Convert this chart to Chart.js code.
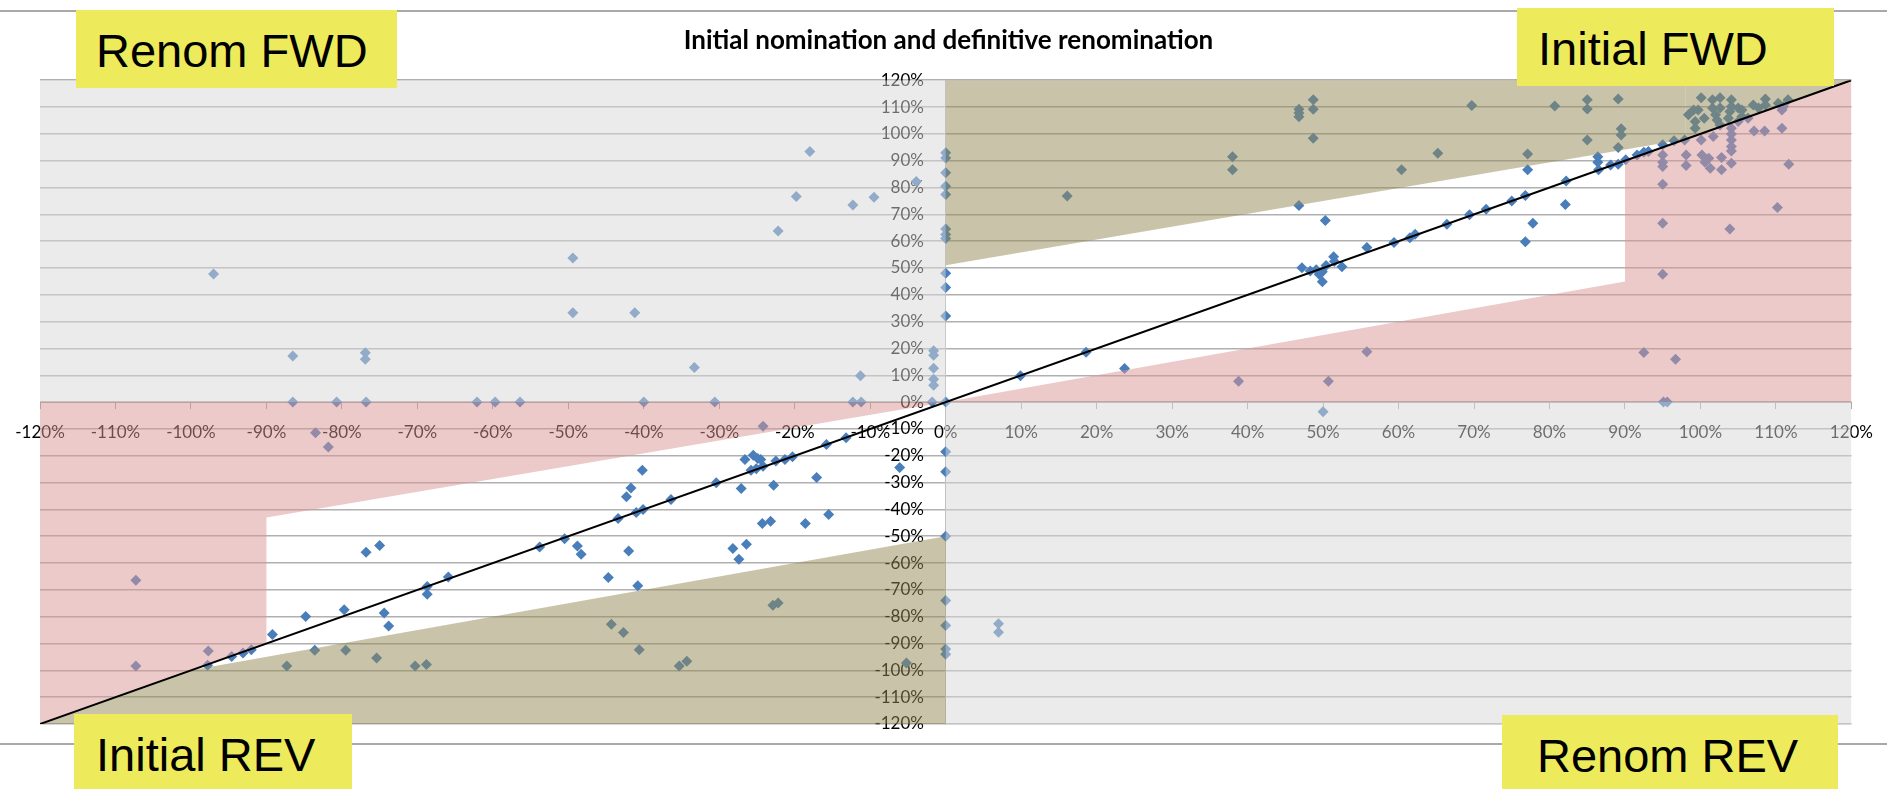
<!DOCTYPE html>
<html>
<head>
<meta charset="utf-8">
<script src="https://cdn.jsdelivr.net/npm/chart.js@4.4.1/dist/chart.umd.min.js"></script>
<style>
    body { margin: 0; background: #fff; }
    #wrap { position: relative; width: 1887px; height: 789px; overflow: hidden; }
    #nominations { position: absolute; left: 0; top: 0; }
    .rule { position: absolute; left: 0; width: 1887px; height: 2px; background: #a9a9a9; }
    .tag { position: absolute; background: #edeb5b; }
    .tag span {
        position: absolute; font-family: "Liberation Sans", Arial, sans-serif;
        font-size: 47px; line-height: 47px; color: #000; white-space: nowrap;
    }
</style>
</head>
<body>
<div id="wrap">
    <div class="rule" style="top:10px"></div>
    <div class="rule" style="top:743px"></div>
    <canvas id="nominations" width="1887" height="789"></canvas>
    <div class="tag" style="left:76px;top:10px;width:321px;height:78px"><span style="left:20px;top:17px">Renom FWD</span></div>
    <div class="tag" style="left:1517px;top:8px;width:317px;height:78px"><span style="left:21px;top:17px">Initial FWD</span></div>
    <div class="tag" style="left:74px;top:714px;width:278px;height:75px"><span style="left:22px;top:17px">Initial REV</span></div>
    <div class="tag" style="left:1502px;top:715px;width:336px;height:74px"><span style="left:35px;top:17px">Renom REV</span></div>
</div>
<script>
    // forward side (initial nomination >= 0)
    const fwdInitial = [
        0, 0, 0, 0, 0, 0, 0, 0, 0, 0, 0, 0, 0, 0, 0, 0, 0, 0, 0,
        9.9, 18.6, 23.7, 16.1, 7, 7, 38, 38, 38.8,
        46.8, 46.8, 46.8, 48.7, 48.7, 48.7, 46.8, 50.3,
        47.2, 48.3, 49.1, 49.9, 49.9, 50.4, 51.4, 51.5, 52.5, 49.5, 50.7, 50,
        55.8, 55.8, 59.4, 60.4, 61.5, 62.2, 65.2, 66.4, 69.4, 69.7, 71.6,
        75, 76.8, 77.1, 77.1, 77.8, 76.8, 80.7, 82.2, 82.1,
        85, 85, 85, 86.4, 86.4, 86.5, 88.1, 89.1, 89.1, 89.1, 89.5, 89.5,
        90.1, 91.6, 92.5, 93.1, 95, 96.5, 97.9,
        100.1, 98.4, 99.1, 99.7, 99.3, 99.3, 100.5, 101.6, 102.6, 101.6, 102.6, 102, 102.2, 102.6,
        104.1, 104.1, 103.9, 105, 105.5, 103.7, 105.5, 107, 108.6, 108.6, 107.7, 110.3, 111.6, 111,
        95, 95, 95, 95, 95, 95, 98.1, 98.1, 100.1, 100.2, 101.1, 101.3, 100.6, 101.7, 102.8, 102.8,
        104.1, 104.1, 104.1, 104.1, 104.1, 104.1, 105, 106.3, 107.1, 108.5, 110.8, 110.8, 111.7, 110.2, 103.9,
        92.5, 96.7, 95.1, 95.6
    ];
    const fwdRenom = [
        93, 91, 85.5, 80.5, 77.4, 64.5, 62.5, 61, 48, 42.7, 32.1, 0, -18.5, -26, -50, -74, -83.3, -92, -94,
        9.8, 18.6, 12.5, 76.8, -82.6, -85.8, 91.5, 86.6, 7.8,
        109.2, 107.8, 106.4, 112.7, 109.2, 98.4, 73.3, 67.7,
        50.1, 48.9, 49.3, 48.6, 44.9, 50.9, 54.2, 52.4, 50.5, 47.6, 7.8, -3.6,
        57.6, 18.8, 59.5, 86.6, 61.3, 62.6, 92.8, 66.3, 69.8, 110.6, 71.9,
        75, 77, 86.6, 92.5, 66.7, 59.8, 110.4, 82.4, 73.7,
        112.7, 109.3, 97.7, 91.5, 89.4, 86.6, 88.4, 88.7, 94.9, 113, 101.9, 99.6,
        90.3, 92.1, 93.1, 93.4, 95.9, 97.4, 97.7,
        113.5, 107.1, 108.9, 108.9, 104.6, 102.1, 105.8, 112.7, 113.5, 109.6, 109.6, 107.1, 105.2, 103.3,
        112.7, 110.2, 108.3, 109.6, 108.9, 105.8, 106.5, 110.8, 113, 110.8, 109.6, 111.4, 112.7, 110.2,
        92.1, 89.4, 87.8, 81.2, 66.7, 47.7, 92.1, 88.2, 97.7, 92.1, 90.9, 87.2, 89.4, 99, 91.2, 86.6,
        102.1, 99.9, 97.7, 95.3, 93.6, 89, 104.6, 105.8, 101.1, 101.1, 102.1, 108.9, 88.7, 72.5, 64.5,
        18.5, 16, 0, 0
    ];

    // reverse side (initial nomination < 0)
    const revInitial = [
        -97, -86.5, -76.9, -76.9, -49.4, -49.4, -41.2, -33.3, -18, -19.8, -22.2, -12.3, -9.5, -3.9, -11.3,
        -1.6, -1.6, -1.6, -1.6, -1.6, -1.8,
        -86.5, -80.7, -76.8, -62.1, -59.7, -56.4, -40, -30.6, -12.3, -11.2,
        -83.5, -81.8, -24.2, -107.3, -107.3, -97.7, -97.8, -94.6, -93.1, -92, -89.2, -84.8, -79.7,
        -76.8, -75, -74.4, -73.8, -68.7, -68.7, -65.9,
        -87.3, -83.6, -79.5, -75.4, -70.3, -68.8,
        -53.8, -50.5, -48.8, -48.3, -44.7, -43.4, -42.3, -41.7, -42, -40.8, -41, -40.1, -40.2, -36.4,
        -30.4, -28.2, -27.4, -26.4, -27.1,
        -26.6, -25.5, -24.9, -25.8, -25.1, -24.2, -24.5, -22.5, -21.3, -20.3, -22.8, -24.3, -23.2,
        -18.6, -17.1, -15.8, -15.5, -13.2, -6.1,
        -44.3, -42.7, -40.6, -35.3, -34.3, -22.9, -22.2, -5.2
    ];
    const revRenom = [
        47.8, 17.2, 18.4, 16, 53.7, 33.3, 33.3, 12.9, 93.4, 76.6, 63.8, 73.5, 76.4, 82.2, 9.8,
        19.1, 17.5, 12.6, 8.5, 6.3, 0,
        0, 0, 0, 0, 0, 0, 0, 0, 0, 0,
        -11.4, -16.7, -9, -66.4, -98.4, -92.8, -98.1, -94.8, -93.5, -92.3, -86.6, -79.9, -77.4,
        -56, -53.5, -78.6, -83.5, -68.7, -71.6, -65.2,
        -98.4, -92.5, -92.5, -95.4, -98.4, -97.8,
        -54, -50.9, -53.6, -56.7, -65.4, -43.4, -35.3, -32, -55.5, -68.5, -41.2, -40, -25.4, -36.3,
        -30.1, -54.6, -58.6, -53, -32.2,
        -21.4, -19.8, -21, -25.4, -24.8, -23.9, -21.4, -22, -21.4, -20.4, -31, -45.3, -44.4,
        -45.3, -28.1, -15.8, -41.9, -13.3, -24.4,
        -82.8, -85.9, -92.3, -98.4, -96.6, -75.7, -74.9, -97.3
    ];

    // shaded zones, vertices in axis percent
    const renomFwdZoneX = [-120, 0, 0, -120];
    const renomFwdZoneY = [0, 0, 120, 120];
    const renomRevZoneX = [0, 120, 120, 0];
    const renomRevZoneY = [0, 0, -120, -120];
    const initFwdHighX = [0, 98, 98, 0];
    const initFwdHighY = [51, 98, 120, 120];
    const initFwdCornerX = [98, 120, 98];
    const initFwdCornerY = [98, 120, 120];
    const initFwdLowX = [0, 90, 90, 120, 120];
    const initFwdLowY = [0, 45, 90, 120, 0];
    const initRevLowX = [0, -100, -120, 0];
    const initRevLowY = [-50, -100, -120, -120];
    const initRevHighX = [-120, 0, -90, -90, -120];
    const initRevHighY = [0, 0, -43, -90, -120];
    const diagonalX = [-120, 120];
    const diagonalY = [-120, 120];

    const axisMin = -120;
    const axisMax = 120;
    const axisStep = 10;

    function pairs(xs, ys) {
        return xs.map(function (x, i) { return { x: x, y: ys[i] }; });
    }

    function zone(xs, ys, color) {
        return {
            type: "line",
            data: pairs(xs, ys),
            backgroundColor: color,
            borderWidth: 0,
            pointRadius: 0,
            fill: "shape",
            order: 2
        };
    }

    const GREY = "rgba(216,216,216,0.5)";
    const OLIVE = "rgba(148,138,84,0.5)";
    const PINK = "rgba(217,150,148,0.5)";

    Chart.defaults.font.family = "Lato, 'Open Sans', sans-serif";

    new Chart("nominations", {
        type: "scatter",
        data: {
            datasets: [
                {
                    data: pairs(fwdInitial, fwdRenom),
                    pointStyle: "rectRot",
                    pointRadius: 5.5,
                    pointBorderWidth: 0,
                    backgroundColor: "#4a7ebb",
                    order: 3
                },
                {
                    data: pairs(revInitial, revRenom),
                    pointStyle: "rectRot",
                    pointRadius: 5.5,
                    pointBorderWidth: 0,
                    backgroundColor: "#4a7ebb",
                    order: 3
                },
                zone(renomFwdZoneX, renomFwdZoneY, GREY),
                zone(renomRevZoneX, renomRevZoneY, GREY),
                zone(initFwdHighX, initFwdHighY, OLIVE),
                zone(initFwdCornerX, initFwdCornerY, OLIVE),
                zone(initRevLowX, initRevLowY, OLIVE),
                zone(initFwdLowX, initFwdLowY, PINK),
                zone(initRevHighX, initRevHighY, PINK),
                {
                    type: "line",
                    data: pairs(diagonalX, diagonalY),
                    borderColor: "#000",
                    borderWidth: 2,
                    pointRadius: 0,
                    fill: false,
                    order: 1
                }
            ]
        },
        options: {
            responsive: false,
            animation: false,
            devicePixelRatio: 1,
            layout: {
                padding: { left: 40, right: 30, top: 0, bottom: 65 }
            },
            plugins: {
                legend: { display: false },
                tooltip: { enabled: false },
                title: {
                    display: true,
                    text: "Initial nomination and definitive renomination",
                    color: "#000",
                    font: { size: 26, weight: "bold" },
                    padding: { top: 25, bottom: 24 }
                }
            },
            scales: {
                x: {
                    type: "linear",
                    position: { y: 0 },
                    min: axisMin,
                    max: axisMax,
                    ticks: {
                        stepSize: axisStep,
                        autoSkip: false,
                        maxRotation: 0,
                        color: "#000",
                        padding: 14,
                        font: { size: 17 },
                        callback: function (v) { return v + "%"; }
                    },
                    grid: {
                        drawOnChartArea: false,
                        tickLength: 6,
                        color: "#a6a6a6"
                    },
                    border: { color: "#a6a6a6", width: 1 }
                },
                y: {
                    type: "linear",
                    position: { x: 0 },
                    min: axisMin,
                    max: axisMax,
                    ticks: {
                        stepSize: axisStep,
                        autoSkip: false,
                        color: "#000",
                        font: { size: 17 },
                        // labels sit right against a centred axis, so keep a gap with no-break spaces
                        callback: function (v) { return v + "%\u00a0\u00a0\u00a0\u00a0\u00a0"; }
                    },
                    grid: {
                        drawTicks: false,
                        color: "#b0b0b0",
                        lineWidth: 1.5
                    },
                    border: { color: "#bfbfbf", width: 1 }
                }
            }
        }
    });
</script>
</body>
</html>
